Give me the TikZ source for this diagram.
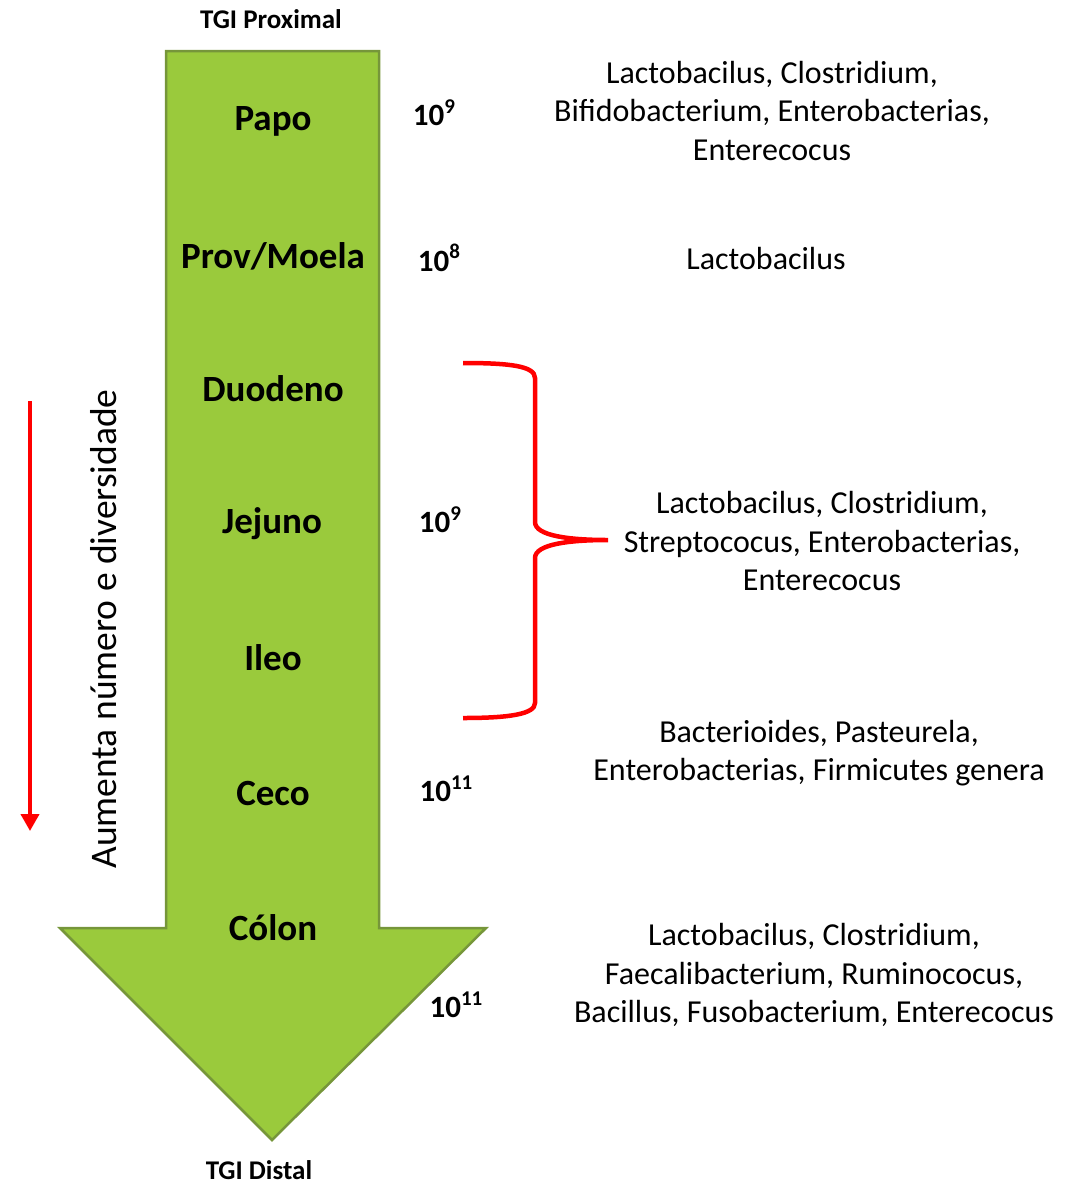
\documentclass[tikz,border=0pt]{standalone}
\usepackage{fontspec}
\setmainfont{Carlito}
\usetikzlibrary{arrows.meta}
\definecolor{gutgreen}{HTML}{9ACA3C}
\definecolor{gutedge}{HTML}{76963A}
\definecolor{brace}{HTML}{FF0000}
\newcommand{\pow}[1]{\raisebox{0.40em}{\fontsize{21}{24}\selectfont\bfseries #1}}
\begin{document}
\begin{tikzpicture}[x=1pt,y=-1pt,
  organ/.style={font=\fontsize{37}{42}\selectfont\bfseries, inner sep=0pt},
  count/.style={font=\fontsize{31}{36}\selectfont\bfseries, inner sep=0pt},
  endlabel/.style={font=\fontsize{27}{32}\selectfont\bfseries, inner sep=0pt},
  taxa/.style={font=\fontsize{32}{38.5}\selectfont, align=center, inner sep=0pt},
  side/.style={font=\fontsize{37.5}{42}\selectfont, inner sep=0pt, rotate=90}]
\useasboundingbox (0,0) rectangle (1084,1187);

% the gut as one large downward arrow
\draw[fill=gutgreen, draw=gutedge, line width=2.5pt, line join=miter]
  (166,51) -- (379,51) -- (379,928) -- (486,928) -- (272,1140)
  -- (60,928) -- (166,928) -- cycle;

\node[endlabel] (prox) at (271,19) {TGI Proximal};
\node[endlabel] (dist) at (259,1170) {TGI Distal};

% sections
\node[organ] (papo) at (273,121) {Papo};
\node[organ] (moela) at (273,256) {Prov/Moela};
\node[organ] (duod) at (273,389) {Duodeno};
\node[organ] (jej) at (272,524) {Jejuno};
\node[organ] (ileo) at (273,658) {Ileo};
\node[organ] (ceco) at (273,793) {Ceco};
\node[organ] (colon) at (273,928) {Cólon};

% bacterial counts
\node[count] (n1) at (434,113) {10\pow{9}};
\node[count] (n2) at (439,258) {10\pow{8}};
\node[count] (n3) at (440,520) {10\pow{9}};
\node[count] (n4) at (446,789) {10\pow{11}};
\node[count] (n5) at (456,1005) {10\pow{11}};

% dominant genera
\node[taxa] (t1) at (772,111) {Lactobacilus, Clostridium,\\Bifidobacterium, Enterobacterias,\\Enterecocus};
\node[taxa] (t2) at (766,259) {Lactobacilus};
\node[taxa] (t3) at (822,541) {Lactobacilus, Clostridium,\\Streptococus, Enterobacterias,\\Enterecocus};
\node[taxa] (t4) at (819,753) {Bacterioides, Pasteurela,\\Enterobacterias, Firmicutes genera};
\node[taxa] (t5) at (814,975) {Lactobacilus, Clostridium,\\Faecalibacterium, Ruminococus,\\Bacillus, Fusobacterium, Enterecocus};

% curly brace grouping duodeno, jejuno and ileo
\coordinate (btop) at (463,363);
\coordinate (btip) at (608,540);
\coordinate (bbot) at (463,718);
\draw[brace, line width=4.5pt, line cap=butt]
  (btop) .. controls (510,363) and (535,366) .. (535,378)
  -- (535,522) .. controls (535,536) and (570,540) .. (btip)
  .. controls (570,540) and (535,544) .. (535,558)
  -- (535,703) .. controls (535,714) and (510,718) .. (bbot);

% increasing number and diversity
\coordinate (dtop) at (30,401);
\coordinate (dbot) at (30,831);
\draw[brace, line width=4pt, -{Triangle[length=17pt,width=18pt]}] (dtop) -- (dbot);
\node[side] (incr) at (104,629) {Aumenta número e diversidade};
\end{tikzpicture}
\end{document}
